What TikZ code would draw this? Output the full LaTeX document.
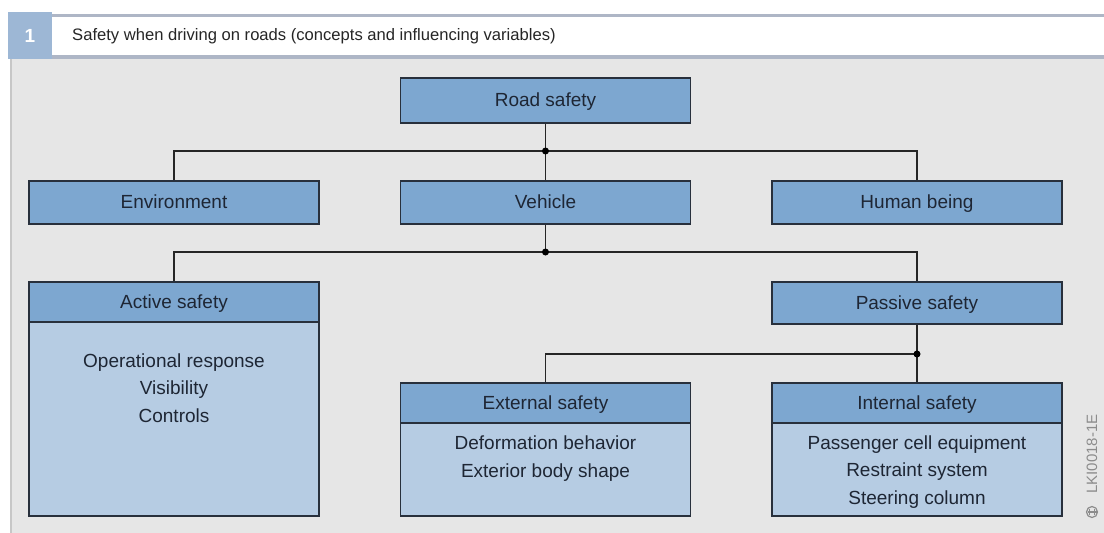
\documentclass[tikz,border=0pt]{standalone}
\usepackage{fontspec}
\setmainfont{Liberation Sans}
\definecolor{headblue}{RGB}{125,167,208}
\definecolor{bodyblue}{RGB}{182,204,227}
\definecolor{panelgray}{RGB}{230,230,230}
\definecolor{boxline}{RGB}{40,48,60}
\definecolor{ink}{RGB}{30,38,52}
\definecolor{rule}{RGB}{174,182,198}
\definecolor{tagblue}{RGB}{157,183,213}
\definecolor{wmgray}{RGB}{140,140,140}
\begin{document}
\begin{tikzpicture}[x=1pt,y=-1pt,
  txt/.style={font=\fontsize{19}{27.5}\selectfont, text=ink, align=center, inner sep=0pt},
  single/.style={draw=boxline, fill=headblue, line width=1.3pt, minimum width=290pt,
    minimum height=43pt, inner sep=0pt, txt, text height=13.7pt, text depth=1.5pt},
  head/.style={single, minimum height=40pt},
  body/.style={draw=boxline, fill=bodyblue, line width=1.3pt, minimum width=290pt, inner sep=0pt},
  link/.style={draw=black!85, line width=1.3pt},
  junction/.style={circle, fill=black, inner sep=0pt, minimum size=7pt}
]
% canvas
\useasboundingbox (0,0) rectangle (1104,533);
\fill[white] (0,0) rectangle (1104,533);
\fill[panelgray] (12,59) rectangle (1104,533);
\fill[black!22] (10,59) rectangle (12,533);

% title band
\fill[rule] (52,14) rectangle (1104,16.5);
\fill[rule] (52,55) rectangle (1104,59);
\fill[tagblue] (8,12) rectangle (52,59);
\node[text=white, font=\fontsize{19}{22}\selectfont\bfseries] (tag) at (30,36) {1};
\node[anchor=west, text=black!85, font=\fontsize{16.6}{20}\selectfont, inner sep=0pt] (title) at (72,36)
  {Safety when driving on roads (concepts and influencing variables)};

% first level
\node[single, minimum height=45pt] (road) at (545.5,100.5) {Road safety};
\node[single] (env) at (174,202.5) {Environment};
\node[single] (veh) at (545.5,202.5) {Vehicle};
\node[single] (human) at (917,202.5) {Human being};

% active / passive
\node[body, minimum height=194pt] (activebody) at (174,419) {};
\node[head] (active) at (174,302) {Active safety};
\node[txt] (activetxt) at (174,388) {Operational response\\Visibility\\Controls};
\node[single, minimum height=42pt] (passive) at (917,303) {Passive safety};

% external / internal
\node[body, minimum height=93pt] (extbody) at (545.5,469.5) {};
\node[head] (ext) at (545.5,403) {External safety};
\node[txt] (exttxt) at (545.5,458.5) {Deformation behavior\\Exterior body shape};
\node[body, minimum height=93pt] (intbody) at (917,469.5) {};
\node[head] (int) at (917,403) {Internal safety};
\node[txt] (inttxt) at (917,472) {Passenger cell equipment\\Restraint system\\Steering column};

% tree connectors
\coordinate (j1) at (545.5,151);
\coordinate (j2) at (545.5,252);
\coordinate (j3) at (917,354);
\draw[link] (road.south) -- (veh.north);
\draw[link] (env.north) |- (j1) -| (human.north);
\draw[link] (veh.south) -- (j2);
\draw[link] (active.north) |- (j2) -| (passive.north);
\draw[link] (passive.south) -- (int.north);
\draw[link] (ext.north) |- (j3);
\node[junction] at (j1) {};
\node[junction] at (j2) {};
\node[junction] at (j3) {};

% figure code
\node[rotate=90, anchor=west, text=wmgray, font=\fontsize{15}{18}\selectfont, inner sep=0pt] (code) at (1092,494) {LKI0018-1E};
\draw[wmgray, line width=1.2pt] (1092,512) circle (5.5pt);
\draw[wmgray, line width=1.1pt] (1087.5,512) -- (1096.5,512) (1089.5,509) -- (1089.5,515) (1094.5,509) -- (1094.5,515);
\end{tikzpicture}
\end{document}
